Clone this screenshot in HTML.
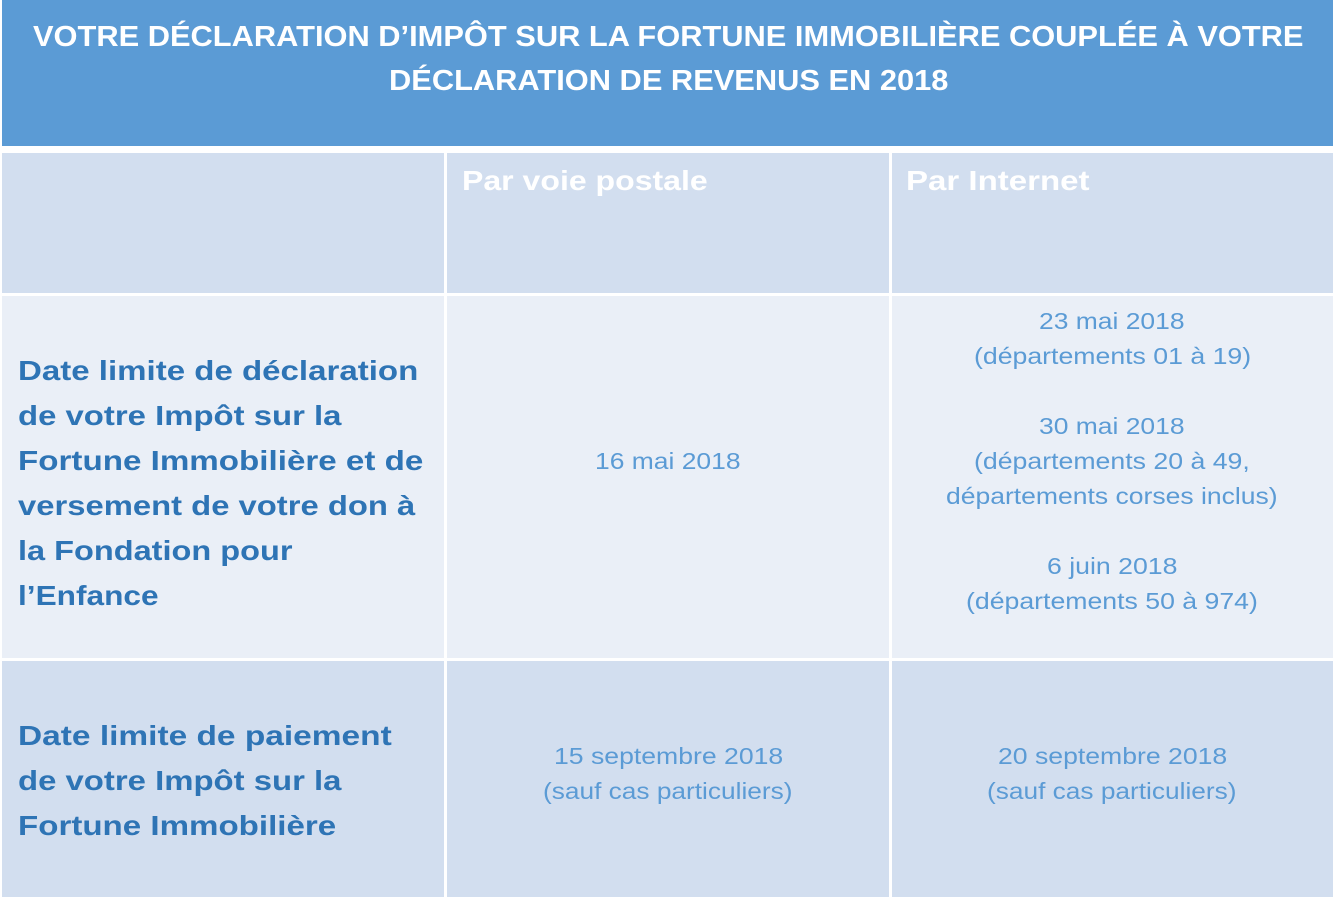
<!DOCTYPE html>
<html><head><meta charset="utf-8">
<style>
html,body{margin:0;padding:0;background:#fff;}
body{width:1339px;height:902px;position:relative;overflow:hidden;font-family:"Liberation Sans",sans-serif;}
.c{position:absolute;}
.t{position:absolute;white-space:nowrap;line-height:1;transform-origin:0 50%;}
.title{color:#fff;font-weight:bold;font-size:29px;}
.hd{color:#fff;font-weight:bold;font-size:28px;}
.lb{color:#2e74b5;font-weight:bold;font-size:28px;}
.v{color:#5b9bd5;font-size:23px;}
</style></head><body>
<div class="c" style="left:2px;top:0;width:1331px;height:146px;background:#5b9bd5"></div>
<div class="c" style="left:2px;top:153px;width:442px;height:140px;background:#d2deef"></div>
<div class="c" style="left:447px;top:153px;width:442px;height:140px;background:#d2deef"></div>
<div class="c" style="left:892px;top:153px;width:441px;height:140px;background:#d2deef"></div>
<div class="c" style="left:2px;top:296px;width:442px;height:362px;background:#eaeff7"></div>
<div class="c" style="left:447px;top:296px;width:442px;height:362px;background:#eaeff7"></div>
<div class="c" style="left:892px;top:296px;width:441px;height:362px;background:#eaeff7"></div>
<div class="c" style="left:2px;top:661px;width:442px;height:236px;background:#d2deef"></div>
<div class="c" style="left:447px;top:661px;width:442px;height:236px;background:#d2deef"></div>
<div class="c" style="left:892px;top:661px;width:441px;height:236px;background:#d2deef"></div>

<div class="t title" data-x="33" data-w="1270" data-y="37">VOTRE DÉCLARATION D’IMPÔT SUR LA FORTUNE IMMOBILIÈRE COUPLÉE À VOTRE</div>
<div class="t title" data-x="389" data-w="559" data-y="81">DÉCLARATION DE REVENUS EN 2018</div>
<div class="t hd" data-x="462" data-w="246" data-y="181">Par voie postale</div>
<div class="t hd" data-x="906" data-w="184" data-y="181">Par Internet</div>

<div class="t lb" data-x="18" data-w="400" data-y="371">Date limite de déclaration</div>
<div class="t lb" data-x="18" data-w="323" data-y="416">de votre Impôt sur la</div>
<div class="t lb" data-x="18" data-w="405" data-y="461">Fortune Immobilière et de</div>
<div class="t lb" data-x="18" data-w="397" data-y="506">versement de votre don à</div>
<div class="t lb" data-x="18" data-w="274" data-y="551">la Fondation pour</div>
<div class="t lb" data-x="18" data-w="140" data-y="596">l’Enfance</div>
<div class="t lb" data-x="18" data-w="374" data-y="736">Date limite de paiement</div>
<div class="t lb" data-x="18" data-w="323" data-y="781">de votre Impôt sur la</div>
<div class="t lb" data-x="18" data-w="318" data-y="826">Fortune Immobilière</div>

<div class="t v" data-cx="668" data-w="146" data-y="461">16 mai 2018</div>
<div class="t v" data-cx="1112" data-w="146" data-y="321">23 mai 2018</div>
<div class="t v" data-cx="1112" data-w="277" data-y="356">(départements 01 à 19)</div>
<div class="t v" data-cx="1112" data-w="146" data-y="426">30 mai 2018</div>
<div class="t v" data-cx="1112" data-w="276" data-y="461">(départements 20 à 49,</div>
<div class="t v" data-cx="1112" data-w="332" data-y="496">départements corses inclus)</div>
<div class="t v" data-cx="1112" data-w="131" data-y="566">6 juin 2018</div>
<div class="t v" data-cx="1112" data-w="292" data-y="601">(départements 50 à 974)</div>
<div class="t v" data-cx="668" data-w="229" data-y="756">15 septembre 2018</div>
<div class="t v" data-cx="668" data-w="250" data-y="791">(sauf cas particuliers)</div>
<div class="t v" data-cx="1112" data-w="229" data-y="756">20 septembre 2018</div>
<div class="t v" data-cx="1112" data-w="250" data-y="791">(sauf cas particuliers)</div>
<script>
document.querySelectorAll('.t').forEach(function(el){
  var w=el.offsetWidth,h=el.offsetHeight,tw=+el.dataset.w;
  var s=tw/w;
  var x=el.dataset.cx!==undefined?(+el.dataset.cx - tw/2):+el.dataset.x;
  el.style.left=x+'px';
  el.style.top=(+el.dataset.y - h/2)+'px';
  el.style.transform='scaleX('+s+')';
});
</script>
</body></html>
